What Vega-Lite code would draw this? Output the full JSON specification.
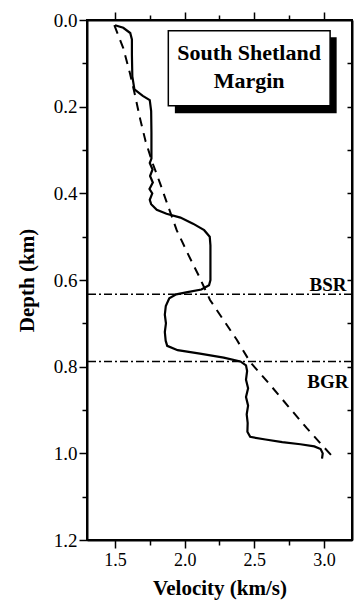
{
  "$schema": "https://vega.github.io/schema/vega-lite/v6.json",
  "autosize": {"type": "none"},
  "padding": {"left": 87, "top": 20, "right": 2, "bottom": 67},
  "width": 265,
  "height": 520,
  "background": "white",
  "config": {
    "view": {"stroke": "black", "strokeWidth": 2},
    "font": "Liberation Serif",
    "axis": {
      "domainColor": "black", "domainWidth": 2, "tickColor": "black", "tickWidth": 1.5,
      "labelColor": "black", "titleColor": "black", "labelFont": "Liberation Serif",
      "titleFont": "Liberation Serif", "grid": false
    }
  },
  "datasets": {
    "measured": [
      {"v": 1.501, "d": 0.012}, {"v": 1.56, "d": 0.018}, {"v": 1.61, "d": 0.03}, {"v": 1.622, "d": 0.045},
      {"v": 1.622, "d": 0.08}, {"v": 1.625, "d": 0.13}, {"v": 1.64, "d": 0.16}, {"v": 1.70, "d": 0.175},
      {"v": 1.75, "d": 0.185}, {"v": 1.76, "d": 0.21}, {"v": 1.762, "d": 0.26}, {"v": 1.762, "d": 0.32},
      {"v": 1.75, "d": 0.33}, {"v": 1.77, "d": 0.345}, {"v": 1.752, "d": 0.36}, {"v": 1.772, "d": 0.375},
      {"v": 1.748, "d": 0.39}, {"v": 1.768, "d": 0.40}, {"v": 1.75, "d": 0.415}, {"v": 1.76, "d": 0.425},
      {"v": 1.80, "d": 0.438}, {"v": 1.87, "d": 0.447}, {"v": 1.97, "d": 0.456}, {"v": 2.06, "d": 0.47},
      {"v": 2.14, "d": 0.485}, {"v": 2.18, "d": 0.50}, {"v": 2.185, "d": 0.52}, {"v": 2.185, "d": 0.60},
      {"v": 2.175, "d": 0.612}, {"v": 2.12, "d": 0.622}, {"v": 2.02, "d": 0.628}, {"v": 1.94, "d": 0.633},
      {"v": 1.89, "d": 0.642}, {"v": 1.865, "d": 0.66}, {"v": 1.858, "d": 0.68}, {"v": 1.866, "d": 0.70},
      {"v": 1.858, "d": 0.72}, {"v": 1.864, "d": 0.74}, {"v": 1.875, "d": 0.752}, {"v": 1.95, "d": 0.762},
      {"v": 2.11, "d": 0.77}, {"v": 2.28, "d": 0.779}, {"v": 2.40, "d": 0.788}, {"v": 2.44, "d": 0.797},
      {"v": 2.448, "d": 0.81}, {"v": 2.44, "d": 0.83}, {"v": 2.455, "d": 0.85}, {"v": 2.44, "d": 0.87},
      {"v": 2.455, "d": 0.89}, {"v": 2.445, "d": 0.91}, {"v": 2.452, "d": 0.93}, {"v": 2.45, "d": 0.95},
      {"v": 2.47, "d": 0.962}, {"v": 2.58, "d": 0.968}, {"v": 2.70, "d": 0.974}, {"v": 2.83, "d": 0.979},
      {"v": 2.93, "d": 0.984}, {"v": 2.975, "d": 0.99}, {"v": 2.99, "d": 1.0}, {"v": 2.985, "d": 1.012}
    ],
    "reference": [
      {"v": 1.496, "d": 0.012}, {"v": 1.56, "d": 0.065}, {"v": 1.608, "d": 0.123}, {"v": 1.644, "d": 0.173},
      {"v": 1.68, "d": 0.227}, {"v": 1.72, "d": 0.28}, {"v": 1.77, "d": 0.33}, {"v": 1.824, "d": 0.377},
      {"v": 1.883, "d": 0.431}, {"v": 1.943, "d": 0.485}, {"v": 2.027, "d": 0.542}, {"v": 2.098, "d": 0.588},
      {"v": 2.182, "d": 0.646}, {"v": 2.278, "d": 0.692}, {"v": 2.374, "d": 0.738}, {"v": 2.469, "d": 0.789},
      {"v": 2.613, "d": 0.842}, {"v": 2.744, "d": 0.892}, {"v": 2.876, "d": 0.942}, {"v": 3.05, "d": 1.004}
    ],
    "horizons": [
      {"d": 0.633, "label": "BSR", "lv": 3.16, "ld": 0.625},
      {"d": 0.788, "label": "BGR", "lv": 3.175, "ld": 0.849}
    ],
    "box": [{"x1": 1.883, "x2": 3.043, "y1": 0.025, "y2": 0.198}],
    "shadow": [{"x1": 1.93, "x2": 3.09, "y1": 0.04, "y2": 0.215}],
    "boxtext": [
      {"t": "South Shetland", "v": 2.462, "d": 0.092},
      {"t": "Margin", "v": 2.462, "d": 0.157}
    ]
  },
  "resolve": {"axis": {"x": "independent", "y": "independent"}},
  "layer": [
    {
      "data": {"name": "reference"},
      "mark": {"type": "line", "color": "black", "strokeWidth": 2, "strokeDash": [9, 7], "strokeCap": "butt"},
      "encoding": {
        "x": {"field": "v", "type": "quantitative",
          "scale": {"domain": [1.3, 3.2], "nice": false, "zero": false},
          "axis": {"orient": "bottom", "values": [1.5, 1.75, 2, 2.25, 2.5, 2.75, 3],
            "labelExpr": "(datum.value * 4) % 2 == 0 ? format(datum.value, '.1f') : ''",
            "tickSize": {"condition": {"test": "(datum.value * 4) % 2 == 0", "value": 8}, "value": 5},
            "labelFontSize": 18, "labelPadding": 3, "title": "Velocity (km/s)",
            "titleFontSize": 21, "titleFontWeight": "bold", "titlePadding": 8}},
        "y": {"field": "d", "type": "quantitative",
          "scale": {"domain": [0, 1.2], "reverse": true, "nice": false, "zero": false},
          "axis": {"orient": "left", "values": [0, 0.1, 0.2, 0.3, 0.4, 0.5, 0.6, 0.7, 0.8, 0.9, 1.0, 1.1, 1.2],
            "labelExpr": "round(datum.value * 10) % 2 == 0 ? format(datum.value, '.1f') : ''",
            "tickSize": {"condition": {"test": "round(datum.value * 10) % 2 == 0", "value": 8}, "value": 5},
            "labelFontSize": 19, "labelPadding": 2, "title": "Depth (km)",
            "titleFontSize": 21, "titleFontWeight": "bold", "titlePadding": 16}},
        "order": {"field": "d", "type": "quantitative"}
      }
    },
    {
      "data": {"name": "reference"},
      "mark": {"type": "line", "opacity": 0},
      "encoding": {
        "x": {"field": "v", "type": "quantitative",
          "scale": {"domain": [1.3, 3.2], "nice": false, "zero": false},
          "axis": {"orient": "top", "values": [1.5, 1.75, 2, 2.25, 2.5, 2.75, 3], "labels": false, "title": null,
            "tickSize": {"condition": {"test": "(datum.value * 4) % 2 == 0", "value": 8}, "value": 5}}},
        "y": {"field": "d", "type": "quantitative",
          "scale": {"domain": [0, 1.2], "reverse": true, "nice": false, "zero": false},
          "axis": {"orient": "right", "values": [0.1, 0.2, 0.3, 0.4, 0.5, 0.6, 0.7, 0.8, 0.9, 1.0, 1.1],
            "labels": false, "title": null, "tickSize": -5}},
        "order": {"field": "d", "type": "quantitative"}
      }
    },
    {
      "data": {"name": "measured"},
      "mark": {"type": "line", "color": "black", "strokeWidth": 2.2},
      "encoding": {
        "x": {"field": "v", "type": "quantitative", "axis": null},
        "y": {"field": "d", "type": "quantitative", "axis": null},
        "order": {"field": "d", "type": "quantitative"}
      }
    },
    {
      "data": {"name": "horizons"},
      "mark": {"type": "rule", "color": "black", "strokeWidth": 1.5, "strokeDash": [8, 3, 2, 3]},
      "encoding": {
        "y": {"field": "d", "type": "quantitative", "axis": null}
      }
    },
    {
      "data": {"name": "horizons"},
      "mark": {"type": "text", "align": "right", "baseline": "alphabetic", "fontSize": 19, "fontWeight": "bold", "font": "Liberation Serif", "color": "black"},
      "encoding": {
        "x": {"field": "lv", "type": "quantitative", "axis": null},
        "y": {"field": "ld", "type": "quantitative", "axis": null},
        "text": {"field": "label"}
      }
    },
    {
      "data": {"name": "shadow"},
      "mark": {"type": "rect", "color": "black"},
      "encoding": {
        "x": {"field": "x1", "type": "quantitative", "axis": null},
        "x2": {"field": "x2"},
        "y": {"field": "y1", "type": "quantitative", "axis": null},
        "y2": {"field": "y2"}
      }
    },
    {
      "data": {"name": "box"},
      "mark": {"type": "rect", "fill": "white", "stroke": "black", "strokeWidth": 1.5},
      "encoding": {
        "x": {"field": "x1", "type": "quantitative", "axis": null},
        "x2": {"field": "x2"},
        "y": {"field": "y1", "type": "quantitative", "axis": null},
        "y2": {"field": "y2"}
      }
    },
    {
      "data": {"name": "boxtext"},
      "mark": {"type": "text", "align": "center", "baseline": "alphabetic", "fontSize": 22, "fontWeight": "bold", "font": "Liberation Serif", "color": "black"},
      "encoding": {
        "x": {"field": "v", "type": "quantitative", "axis": null},
        "y": {"field": "d", "type": "quantitative", "axis": null},
        "text": {"field": "t"}
      }
    }
  ]
}
